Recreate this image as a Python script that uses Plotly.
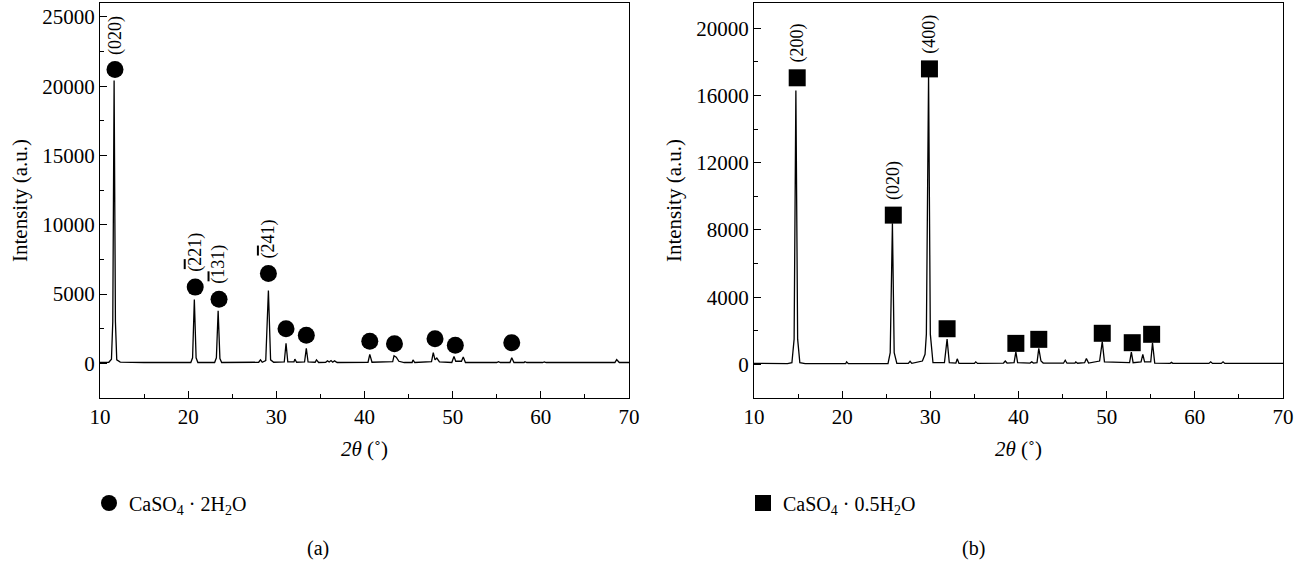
import plotly.graph_objects as go

# ---------------- data ----------------
# (a) CaSO4·2H2O diffraction pattern: 2θ vertices and intensities
pattern_a_x = [10.0, 11.0, 11.3, 11.45, 11.6, 11.75, 11.9, 12.3, 15.0, 18.0,
               20.3, 20.5, 20.7, 20.9, 21.1, 23.0, 23.2, 23.4, 23.6, 23.8,
               28.0, 28.2, 28.4, 28.8, 29.1, 29.35, 29.7, 30.9, 31.1, 31.3,
               32.0, 32.1, 32.3, 33.2, 33.4, 33.6, 34.4, 34.55, 34.8, 35.6,
               35.8, 36.0, 36.2, 36.4, 36.6, 36.9, 40.4, 40.6, 40.85, 43.2,
               43.35, 43.6, 43.9, 44.5, 45.4, 45.5, 45.7, 47.6, 47.8, 48.0,
               48.2, 48.5, 49.9, 50.15, 50.35, 51.0, 51.2, 51.45, 55.0, 55.2,
               55.4, 56.5, 56.7, 56.95, 58.1, 58.2, 58.4, 60.2, 60.4, 60.6,
               63.9, 64.0, 64.2, 65.4, 65.6, 65.8, 68.4, 68.6, 68.9, 70.0]
pattern_a_y = [60, 80, 300, 3000, 20400, 3000, 250, 90, 60, 40,
               60, 400, 4600, 400, 60, 60, 400, 3800, 350, 60,
               80, 250, 80, 200, 5250, 250, 80, 100, 1450, 100,
               100, 300, 80, 100, 1080, 100, 80, 250, 60, 80,
               180, 100, 200, 80, 180, 60, 80, 650, 80, 120,
               550, 450, 150, 60, 60, 250, 60, 120, 770, 250,
               380, 100, 60, 500, 150, 150, 450, 60, 60, 120,
               60, 60, 400, 60, 60, 120, 60, 60, 100, 60,
               60, 100, 60, 60, 100, 60, 60, 270, 60, 60]

# (a) phase markers (circles) and hkl labels
marks_a_x = [11.7, 20.8, 23.5, 29.1, 31.1, 33.4, 40.6, 43.4, 48.0, 50.3, 56.7]
marks_a_y = [21200, 5500, 4620, 6480, 2500, 2020, 1600, 1420, 1780, 1300, 1490]
hkl_a = ["(020)", "(221)", "(131)", "(241)"]
hkl_a_bar = [False, True, True, True]   # index with an overbar (negative h)

# (b) CaSO4·0.5H2O diffraction pattern
pattern_b_x = [10.0, 13.8, 14.3, 14.55, 14.75, 14.95, 15.2, 15.8, 20.4, 20.5,
               20.7, 22.2, 25.2, 25.45, 25.7, 25.9, 26.2, 27.5, 27.7, 27.9,
               29.1, 29.4, 29.55, 29.8, 30.0, 30.3, 31.6, 31.9, 32.15, 32.9,
               33.05, 33.25, 35.0, 35.15, 35.35, 38.3, 38.5, 38.7, 39.5, 39.7,
               39.9, 41.3, 41.5, 41.7, 42.1, 42.3, 42.55, 42.8, 45.1, 45.3,
               45.5, 46.4, 46.5, 46.7, 47.5, 47.7, 47.95, 49.2, 49.5, 49.75,
               52.6, 52.8, 53.0, 53.9, 54.1, 54.3, 55.0, 55.2, 55.45, 57.2,
               57.35, 57.5, 61.6, 61.8, 62.0, 63.0, 63.2, 63.4, 70.0]
pattern_b_y = [60, 50, 100, 1500, 16300, 1500, 100, 40, 40, 150,
               40, 50, 50, 700, 8400, 700, 60, 60, 180, 60,
               200, 600, 1800, 17200, 1800, 100, 100, 1500, 100, 80,
               330, 60, 60, 150, 60, 80, 200, 80, 100, 750,
               100, 80, 150, 80, 100, 950, 200, 80, 70, 250,
               70, 70, 150, 70, 100, 350, 80, 200, 1350, 150,
               100, 730, 100, 150, 600, 150, 150, 1290, 80, 60,
               120, 60, 60, 150, 60, 60, 150, 60, 60]

# (b) phase markers (squares) and hkl labels
marks_b_x = [14.9, 25.8, 29.9, 31.9, 39.7, 42.3, 49.5, 52.9, 55.1]
marks_b_y = [17050, 8880, 17580, 2120, 1250, 1490, 1850, 1290, 1790]
hkl_b = ["(200)", "(020)", "(400)"]

legend_a = "CaSO<sub>4</sub> · 2H<sub>2</sub>O"
legend_b = "CaSO<sub>4</sub> · 0.5H<sub>2</sub>O"
x_ticks = [10, 20, 30, 40, 50, 60, 70]
y_ticks_a = [0, 5000, 10000, 15000, 20000, 25000]
y_ticks_b = [0, 4000, 8000, 12000, 16000, 20000]

# ---------------- figure ----------------
FONT = "Liberation Serif"
W, H = 1305, 563

fig = go.Figure()
fig.add_trace(go.Scatter(x=pattern_a_x, y=pattern_a_y, mode="lines",
                         line=dict(color="black", width=1.3),
                         xaxis="x", yaxis="y", showlegend=False, hoverinfo="skip"))
fig.add_trace(go.Scatter(x=marks_a_x, y=marks_a_y, mode="markers", name=legend_a,
                         marker=dict(symbol="circle", size=17, color="black"),
                         xaxis="x", yaxis="y", legend="legend"))
fig.add_trace(go.Scatter(x=pattern_b_x, y=pattern_b_y, mode="lines",
                         line=dict(color="black", width=1.3),
                         xaxis="x2", yaxis="y2", showlegend=False, hoverinfo="skip"))
fig.add_trace(go.Scatter(x=marks_b_x, y=marks_b_y, mode="markers", name=legend_b,
                         marker=dict(symbol="square", size=17, color="black"),
                         xaxis="x2", yaxis="y2", legend="legend2"))

ann = []
shapes = []
for i, t in enumerate(hkl_a):
    ann.append(dict(x=marks_a_x[i], y=marks_a_y[i], xref="x", yref="y", text=t,
                    textangle=-90, showarrow=False, xanchor="center", yanchor="bottom",
                    yshift=13, font=dict(family=FONT, size=18, color="black")))
    if hkl_a_bar[i]:
        # overbar on the first index, drawn beside the rotated label
        shapes.append(dict(type="rect", xref="x", yref="y",
                           xsizemode="pixel", ysizemode="pixel",
                           xanchor=marks_a_x[i], yanchor=marks_a_y[i],
                           x0=-11.5, x1=-9.5, y0=18, y1=28,
                           fillcolor="black", line=dict(width=0)))
for i, t in enumerate(hkl_b):
    ann.append(dict(x=marks_b_x[i], y=marks_b_y[i], xref="x2", yref="y2", text=t,
                    textangle=-90, showarrow=False, xanchor="center", yanchor="bottom",
                    yshift=13, font=dict(family=FONT, size=18, color="black")))
ann.append(dict(x=318 / W, y=1 - 548 / H, xref="paper", yref="paper", text="(a)",
                showarrow=False, xanchor="center", yanchor="middle",
                font=dict(family=FONT, size=20, color="black")))
ann.append(dict(x=973 / W, y=1 - 548 / H, xref="paper", yref="paper", text="(b)",
                showarrow=False, xanchor="center", yanchor="middle",
                font=dict(family=FONT, size=20, color="black")))

ydom = [1 - 398 / H, 1 - 3 / H]

def xax(domain, anchor):
    return dict(domain=domain, anchor=anchor, range=[10, 70], tickvals=x_ticks,
                ticks="inside", ticklen=7, tickwidth=1.2, tickcolor="black",
                minor=dict(ticks="inside", ticklen=4, tickwidth=1, tickcolor="black",
                           dtick=5, tick0=10, showgrid=False),
                showline=True, linecolor="black", linewidth=1.3, mirror=True,
                showgrid=False, zeroline=False, automargin=False,
                tickfont=dict(family=FONT, size=21, color="black"),
                title=dict(text="<i>2θ</i> (˚)", standoff=12,
                           font=dict(family=FONT, size=21, color="black")))

def yax(anchor, rng, vals, minor_dt):
    return dict(domain=ydom, anchor=anchor, range=rng, tickvals=vals, tickformat="d",
                ticks="inside", ticklen=7, tickwidth=1.2, tickcolor="black",
                minor=dict(ticks="inside", ticklen=4, tickwidth=1, tickcolor="black",
                           dtick=minor_dt, tick0=0, showgrid=False),
                showline=True, linecolor="black", linewidth=1.3, mirror=True,
                showgrid=False, zeroline=False, automargin=False,
                tickfont=dict(family=FONT, size=21, color="black"),
                title=dict(text="Intensity (a.u.)", standoff=8,
                           font=dict(family=FONT, size=21, color="black")))

fig.update_layout(
    width=W, height=H, autosize=False,
    margin=dict(l=0, r=0, t=0, b=0, autoexpand=False),
    paper_bgcolor="white", plot_bgcolor="white",
    font=dict(family=FONT, color="black"),
    xaxis=xax([100 / W, 629 / W], "y"),
    yaxis=yax("x", [-2500, 26000], y_ticks_a, 2500),
    xaxis2=xax([754 / W, 1283 / W], "y2"),
    yaxis2=yax("x2", [-2000, 21500], y_ticks_b, 2000),
    legend=dict(x=89 / W, y=1 - 503 / H, xanchor="left", yanchor="middle",
                bgcolor="rgba(0,0,0,0)", font=dict(family=FONT, size=20, color="black"),
                itemsizing="trace"),
    legend2=dict(x=743 / W, y=1 - 503 / H, xanchor="left", yanchor="middle",
                 bgcolor="rgba(0,0,0,0)", font=dict(family=FONT, size=20, color="black"),
                 itemsizing="trace"),
    annotations=ann,
    shapes=shapes,
)

fig.write_html("out.html",
               config={"displayModeBar": False},
               post_script="document.body.style.margin='0';"
                           "document.body.style.overflow='hidden';")
